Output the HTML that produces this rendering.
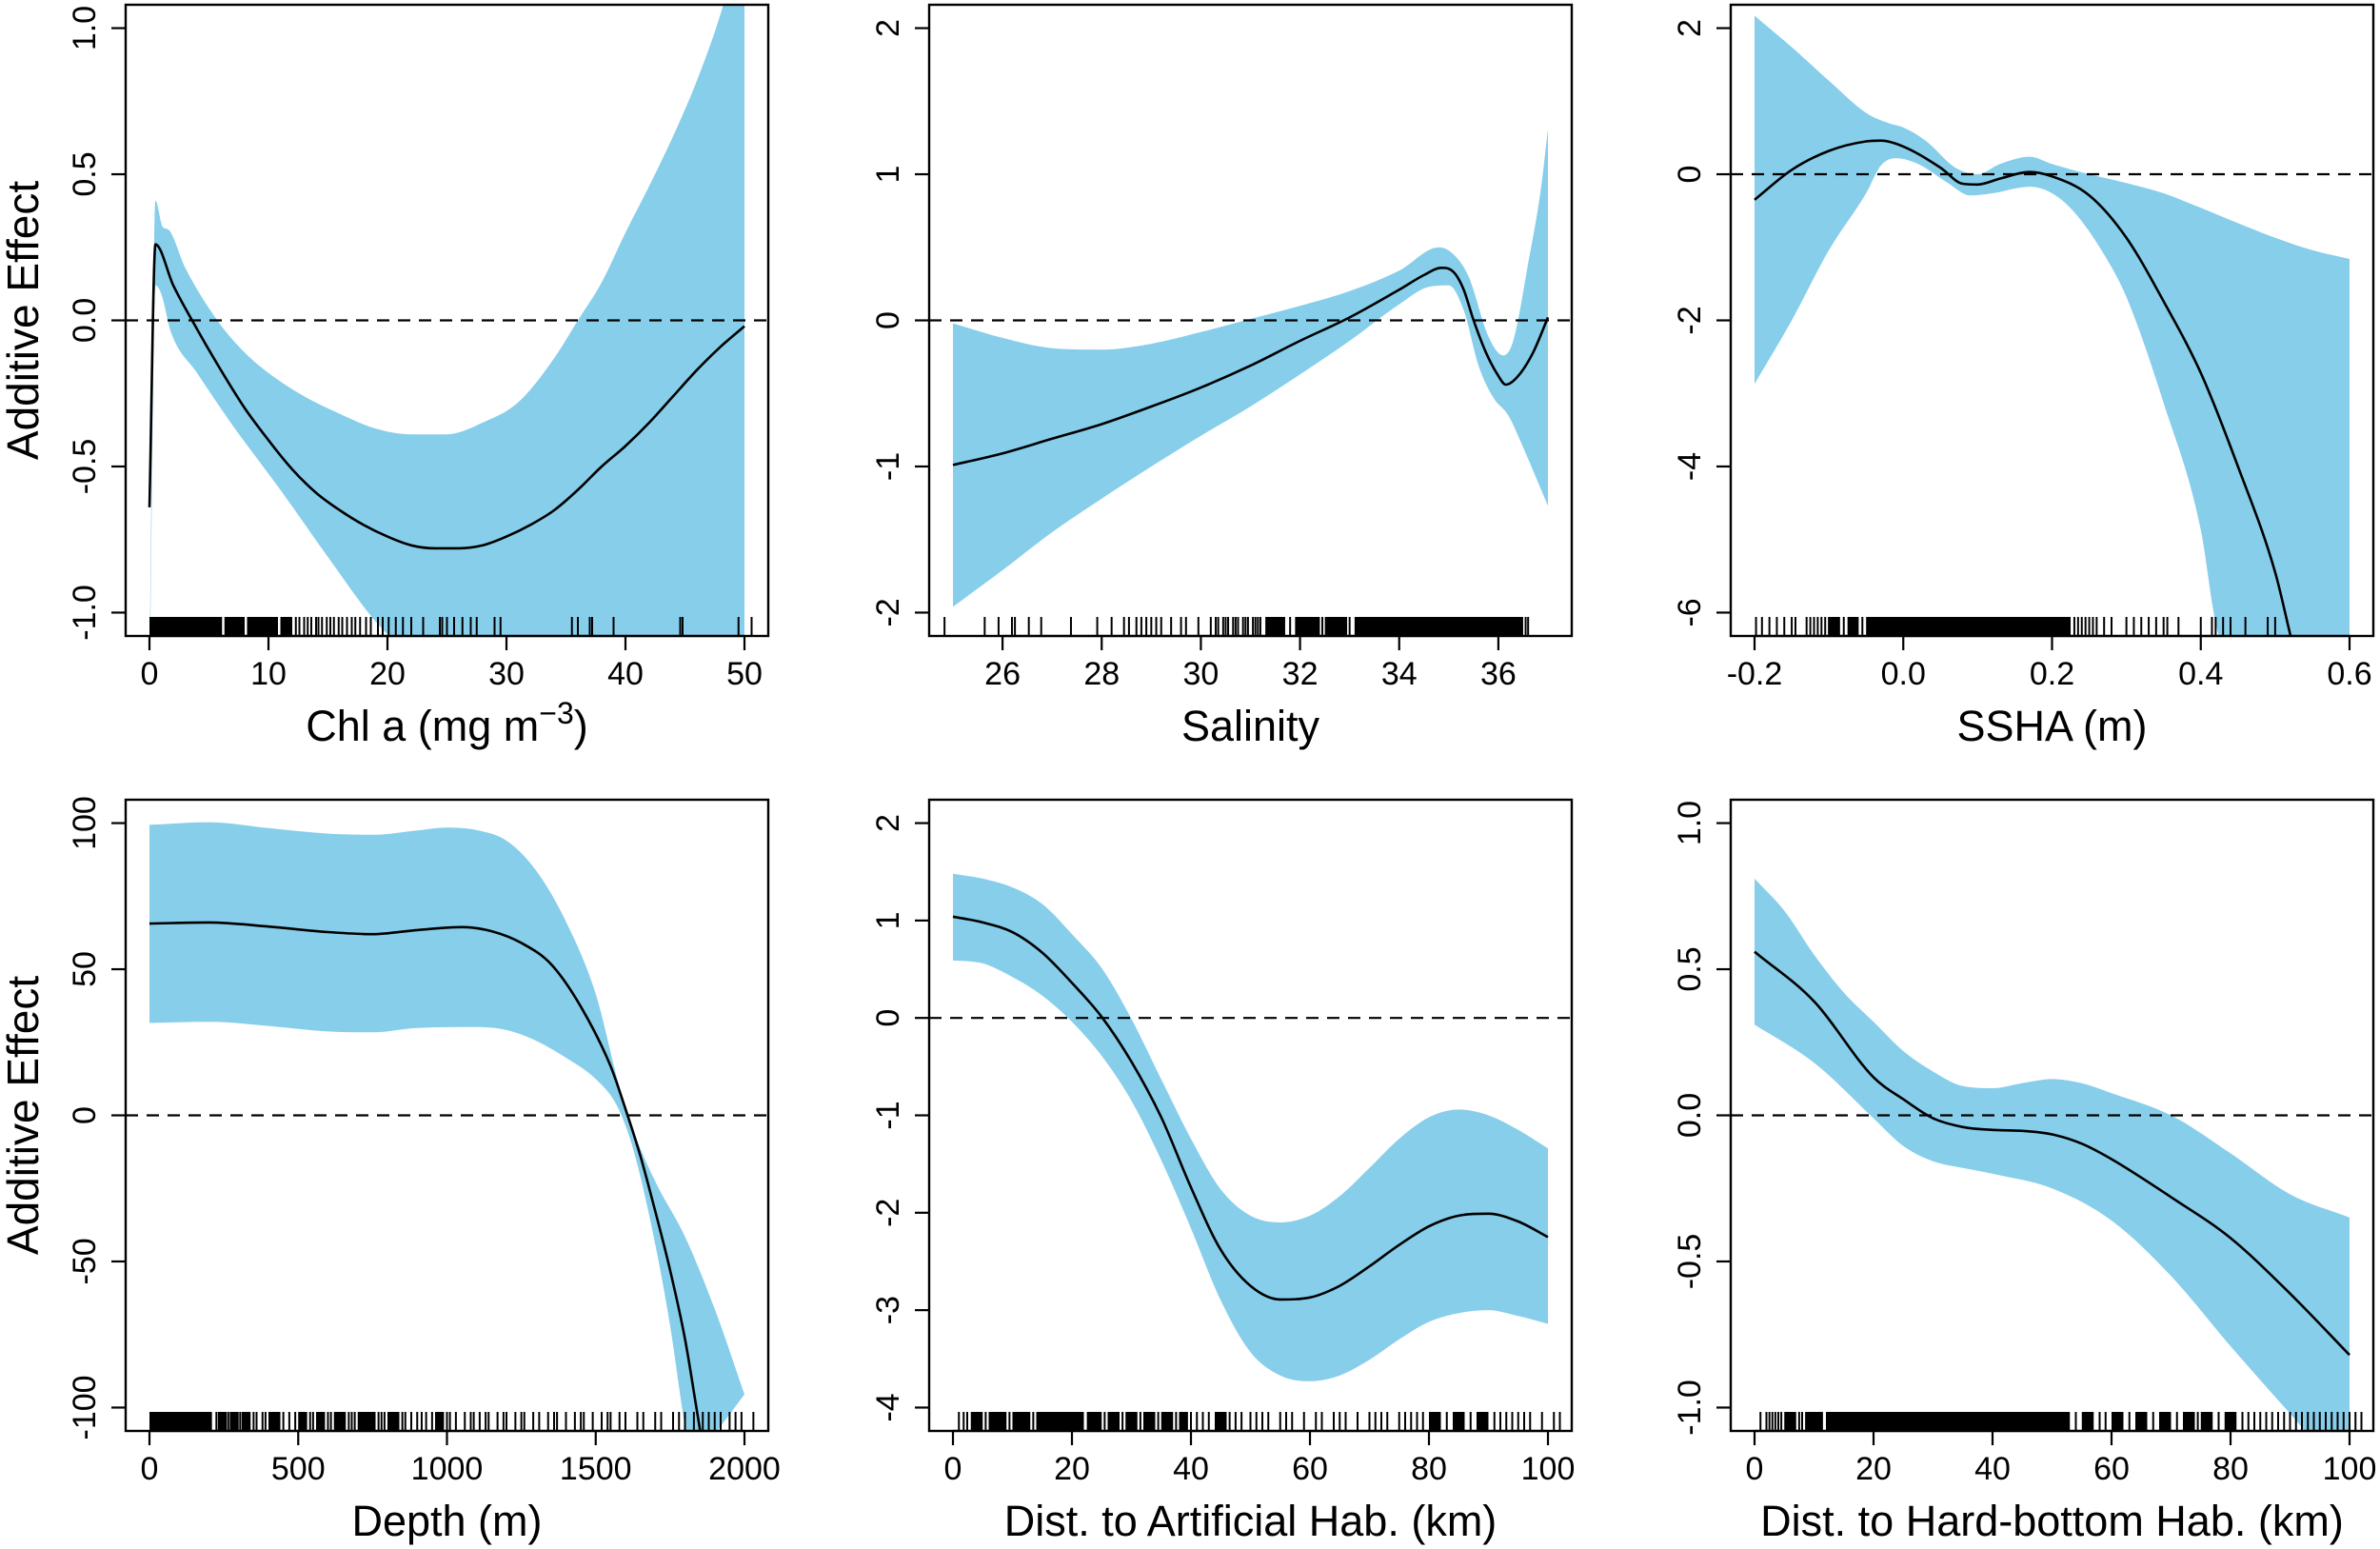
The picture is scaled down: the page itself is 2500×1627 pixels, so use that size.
<!DOCTYPE html>
<html><head><meta charset="utf-8">
<style>
html,body{margin:0;padding:0;background:#fff;}
svg{display:block;font-family:"Liberation Sans",Arial,sans-serif;}
</style></head>
<body>
<svg id="fig" width="2500" height="1627" viewBox="0 0 2500 1627" xmlns="http://www.w3.org/2000/svg"></svg>
<script>
// ---------- Panel 1: Chl a ----------
const chlLineX=[0,0.5,2,4,6,8,10,12,14,16,18,20,22,24,26,28,30,32,34,36,38,40,42,44,46,48,50];
const chlLineY=[-0.64,0.26,0.12,-0.03,-0.17,-0.30,-0.41,-0.51,-0.59,-0.65,-0.70,-0.74,-0.77,-0.78,-0.78,-0.77,-0.74,-0.70,-0.65,-0.58,-0.50,-0.43,-0.35,-0.26,-0.17,-0.09,-0.02];
const chlUpX=[0,0.5,1.1,1.6,3,5.7,8,10,13,16,19,22,25,28,31,34,36,38,40,42,44,46,48,50];
const chlUpY=[-1.2,0.41,0.32,0.31,0.18,0,-0.11,-0.18,-0.26,-0.32,-0.37,-0.39,-0.39,-0.35,-0.28,-0.13,0,0.13,0.30,0.46,0.63,0.82,1.05,1.35];
const chlLoX=[0,0.5,1.0,1.8,4,7,11,15,19,22,30,40,50];
const chlLoY=[-1.3,0.12,0.09,-0.04,-0.18,-0.36,-0.58,-0.81,-1.03,-1.15,-1.4,-1.5,-1.5];
const chlRugSpans=[[0,6.1],[6.3,8.0],[8.2,10.8],[11,12]];
const chlRugTicks=[12.3,12.6,13,13.3,13.6,14,14.2,14.5,14.9,15.2,15.5,15.9,16.2,16.6,17,17.3,17.7,18.2,18.6,19.2,19.6,20.1,20.7,21.3,22,23,24.4,24.6,25,25.6,26.3,27,27.5,29,29.5,35.5,36,37,37.2,39,44.6,44.8,49.5,50.6];
const chlXTicks=[0,10,20,30,40,50];
const chlYTicks=[-1.0,-0.5,0.0,0.5,1.0];
const chlYLabels=["-1.0","-0.5","0.0","0.5","1.0"];
// ---------- Panel 2: Salinity ----------
const salLineX=[25,26,27,28,29,30,31,32,33,34,34.5,34.85,35.1,35.3,35.5,35.75,36,36.15,36.4,36.7,37];
const salLineY=[-0.99,-0.91,-0.81,-0.71,-0.59,-0.46,-0.31,-0.14,0.02,0.21,0.31,0.36,0.33,0.21,0,-0.22,-0.38,-0.44,-0.38,-0.22,0.02];
const salUpX=[25,26,27,28,29,30,31,32,33,34,34.8,35.1,35.4,35.8,36.1,36.3,36.6,36.85,37];
const salUpY=[-0.02,-0.12,-0.19,-0.2,-0.16,-0.08,0.01,0.1,0.2,0.34,0.5,0.45,0.3,-0.11,-0.24,-0.14,0.39,0.88,1.31];
const salLoX=[25,26,27,28,29,30,31,32,33,34,34.6,35,35.3,35.6,35.9,36.2,36.5,37];
const salLoY=[-1.96,-1.71,-1.45,-1.22,-1.0,-0.79,-0.59,-0.37,-0.14,0.11,0.23,0.24,0.07,-0.31,-0.53,-0.65,-0.87,-1.27];
const salRugSpans=[[33.1,36.5],[31.3,31.7],[31.9,32.4],[32.5,32.95]];
const salRugTicks=[24.83,25.64,25.92,26.19,26.25,26.53,26.78,27.38,27.91,28.2,28.45,28.55,28.7,28.8,28.9,29.0,29.1,29.2,29.4,29.6,29.7,29.95,30.2,30.3,30.35,30.45,30.5,30.55,30.65,30.7,30.75,30.85,30.9,30.95,31.05,31.1,31.15,31.2,31.8,32.45,33.0,36.55,36.6,37.5];
const salXTicks=[26,28,30,32,34,36];
const salYTicks=[-2,-1,0,1,2];
const salYLabels=["-2","-1","0","1","2"];
// ---------- Panel 3: SSHA ----------
const sshLineX=[-0.2,-0.15,-0.1,-0.05,-0.03,0,0.05,0.08,0.1,0.13,0.17,0.2,0.25,0.3,0.35,0.4,0.45,0.5,0.52,0.56];
const sshLineY=[-0.35,0.06,0.32,0.45,0.46,0.38,0.09,-0.13,-0.14,-0.06,0.03,-0.03,-0.29,-0.87,-1.74,-2.72,-4.0,-5.45,-6.29,-8];
const sshUpX=[-0.2,-0.15,-0.1,-0.05,-0.02,0,0.03,0.07,0.1,0.13,0.17,0.2,0.25,0.3,0.35,0.4,0.45,0.5,0.55,0.6];
const sshUpY=[2.17,1.74,1.28,0.84,0.7,0.64,0.46,0.09,0,0.14,0.24,0.14,0,-0.12,-0.26,-0.46,-0.67,-0.87,-1.04,-1.16];
const sshLoX=[-0.2,-0.15,-0.1,-0.05,-0.03,-0.01,0.02,0.06,0.09,0.12,0.17,0.2,0.23,0.27,0.3,0.35,0.4,0.42,0.45,0.6];
const sshLoY=[-2.87,-2.0,-1.04,-0.26,0.12,0.22,0.14,-0.12,-0.29,-0.26,-0.17,-0.26,-0.52,-1.1,-1.68,-3.13,-4.87,-6.14,-7,-8];
const sshRugSpans=[[-0.05,0.225],[-0.1,-0.085],[-0.075,-0.06]];
const sshRugTicks=[-0.198,-0.19,-0.18,-0.17,-0.16,-0.15,-0.145,-0.13,-0.125,-0.12,-0.115,-0.11,-0.105,-0.1,-0.08,-0.055,0.23,0.235,0.24,0.245,0.25,0.255,0.26,0.27,0.28,0.3,0.31,0.32,0.33,0.34,0.35,0.355,0.37,0.4,0.415,0.42,0.43,0.44,0.46,0.49,0.5];
const sshXTicks=[-0.2,0.0,0.2,0.4,0.6];
const sshXLabels=["-0.2","0.0","0.2","0.4","0.6"];
const sshYTicks=[-6,-4,-2,0,2];
const sshYLabels=["-6","-4","-2","0","2"];
// ---------- Panel 4: Depth ----------
const depLineX=[0,200,400,600,750,900,1050,1150,1250,1350,1450,1550,1600,1650,1700,1750,1800,1840,1870];
const depLineY=[65.6,66,64.6,62.7,62,63.4,64.4,63,59,51.7,37.2,16.8,2.2,-13.8,-32.8,-53,-76.5,-101,-120];
const depUpX=[0,200,400,600,750,900,1000,1100,1200,1300,1400,1500,1580,1620,1700,1800,1900,2000];
const depUpY=[99.4,100.3,98.3,96.4,96,97.5,98.5,97.6,94,83.7,66.3,41.5,9.5,-3.6,-22.6,-41.5,-66.3,-95.5];
const depLoX=[0,200,400,600,750,900,1100,1200,1300,1400,1500,1570,1620,1680,1750,1790,1820];
const depLoY=[31.6,32,30.6,28.7,28.4,29.9,30.2,29.2,25.5,19.7,12.4,3.6,-9.5,-34.3,-72,-100,-120];
const depRugSpans=[[0,210],[230,260],[270,300],[310,340],[400,440],[500,530],[560,590],[620,660],[700,760],[800,840],[960,990]];
const depRugTicks=[225,265,305,350,360,380,390,450,470,490,540,550,600,610,670,680,690,770,780,790,850,860,880,900,915,930,950,1000,1010,1030,1060,1080,1090,1110,1130,1140,1170,1190,1200,1230,1250,1260,1290,1310,1340,1360,1370,1400,1430,1450,1460,1490,1520,1540,1550,1580,1600,1640,1660,1700,1720,1760,1780,1800,1830,1860,1880,1900,1920,1950,1970,1990,2030];
const depXTicks=[0,500,1000,1500,2000];
const depYTicks=[-100,-50,0,50,100];
const depYLabels=["-100","-50","0","50","100"];
// ---------- Panel 5: Dist. to Artificial Hab. ----------
const artLineX=[0,5,10,15,20,25,30,35,40,45,50,55,60,65,70,75,80,85,90,95,100];
const artLineY=[1.04,0.98,0.88,0.67,0.36,0.01,-0.45,-1.02,-1.74,-2.38,-2.75,-2.89,-2.87,-2.75,-2.55,-2.33,-2.14,-2.03,-2.01,-2.09,-2.25];
const artUpY=[1.48,1.43,1.34,1.17,0.86,0.51,-0.01,-0.63,-1.24,-1.76,-2.03,-2.1,-2.03,-1.83,-1.54,-1.24,-1.02,-0.94,-1.0,-1.15,-1.34];
const artLoY=[0.59,0.56,0.42,0.23,-0.04,-0.39,-0.85,-1.46,-2.16,-2.9,-3.43,-3.67,-3.73,-3.67,-3.51,-3.3,-3.12,-3.03,-3.0,-3.06,-3.14];
const artRugSpans=[[3,5],[6,9],[10,13],[14,22],[22.5,25],[26,28],[29,31],[32,34],[35,37],[38,39.5],[44,46],[80,82],[84,86],[88,90]];
const artRugTicks=[1,1.8,2.4,5.5,9.5,13.5,25.5,28.5,31.5,34.5,37.5,40,41,42,43,46.5,47.5,48.5,50,51,52,53,55,56,57,59,61,62,64,65,66,68,70,71,72,73,75,76,77,78,79,83,87,91,92,93,94,95,96,97,99,101,102];
const artXTicks=[0,20,40,60,80,100];
const artYTicks=[-4,-3,-2,-1,0,1,2];
const artYLabels=["-4","-3","-2","-1","0","1","2"];
// ---------- Panel 6: Dist. to Hard-bottom Hab. ----------
const hbLineX=[0,10,20,25,30,35,40,45,50,55,60,70,80,90,100];
const hbLineY=[0.56,0.39,0.13,0.055,-0.01,-0.04,-0.05,-0.053,-0.065,-0.097,-0.15,-0.28,-0.42,-0.61,-0.82];
const hbUpX=[0,5,10,15,20,25,30,35,40,45,50,55,60,70,80,90,100];
const hbUpY=[0.81,0.70,0.55,0.42,0.32,0.22,0.15,0.10,0.093,0.11,0.124,0.11,0.076,0,-0.13,-0.27,-0.35];
const hbLoX=[0,10,20,25,30,35,40,50,60,70,80,90,95,100];
const hbLoY=[0.31,0.18,-0.01,-0.105,-0.157,-0.18,-0.20,-0.25,-0.36,-0.55,-0.79,-1.02,-1.13,-1.16];
const hbRugSpans=[[12,53],[5,7],[8.5,11.5],[55,57],[60,62],[64,66],[68,70],[72,74],[75,77],[79,81]];
const hbRugTicks=[1,2,2.5,3,3.5,4,4.5,7.5,8,54,58,59,63,67,71,74.5,78,82,83,84,85,86,87,88,89,90,91,92,93,94,95,96,97,98,99,100,101,102];
const hbXTicks=[0,20,40,60,80,100];
const hbYTicks=[-1.0,-0.5,0.0,0.5,1.0];
const hbYLabels=["-1.0","-0.5","0.0","0.5","1.0"];

const NS="http://www.w3.org/2000/svg";
const svg=document.getElementById('fig');
function mk(tag,attrs,parent){const e=document.createElementNS(NS,tag);for(const k in attrs)e.setAttribute(k,attrs[k]);(parent||svg).appendChild(e);return e;}
// monotone cubic (Fritsch-Carlson) in data space -> bezier segments in pixel space
function segments(xs,ys,sx,sy){
  const n=xs.length,d=[],m=new Array(n);
  for(let i=0;i<n-1;i++)d.push((ys[i+1]-ys[i])/(xs[i+1]-xs[i]));
  m[0]=d[0];m[n-1]=d[n-2];
  for(let i=1;i<n-1;i++)m[i]=(d[i-1]*d[i]<=0)?0:(d[i-1]+d[i])/2;
  for(let i=0;i<n-1;i++){
    if(d[i]===0){m[i]=0;m[i+1]=0;continue;}
    const a=m[i]/d[i],b=m[i+1]/d[i],s=a*a+b*b;
    if(s>9){const t=3/Math.sqrt(s);m[i]=t*a*d[i];m[i+1]=t*b*d[i];}
  }
  const segs=[];
  for(let i=0;i<n-1;i++){
    const h=xs[i+1]-xs[i];
    segs.push([[sx(xs[i]),sy(ys[i])],[sx(xs[i]+h/3),sy(ys[i]+m[i]*h/3)],[sx(xs[i+1]-h/3),sy(ys[i+1]-m[i+1]*h/3)],[sx(xs[i+1]),sy(ys[i+1])]]);
  }
  return segs;
}
const f=p=>p[0].toFixed(1)+","+p[1].toFixed(1);
function pathFwd(segs,move){let s=(move?"M":"L")+f(segs[0][0]);segs.forEach(g=>{s+="C"+f(g[1])+" "+f(g[2])+" "+f(g[3]);});return s;}
function pathRev(segs){const r=segs.slice().reverse();let s="L"+f(r[0][3]);r.forEach(g=>{s+="C"+f(g[2])+" "+f(g[1])+" "+f(g[0]);});return s;}

let clipId=0;
function panel(cfg){
  const L=cfg.left,T=cfg.top,W=675,H=663;
  const [x0,x1]=cfg.xlim,[y0,y1]=cfg.ylim;
  const px=(x1-x0)*0.04,py=(y1-y0)*0.04;
  const sx=v=>L+(v-(x0-px))/((x1-x0)*1.08)*W;
  const sy=v=>T+H-(v-(y0-py))/((y1-y0)*1.08)*H;
  const g=mk('g',{});
  
  
  const cid='clip'+(clipId++);
  const cp=mk('clipPath',{id:cid},g);mk('rect',{x:L,y:T,width:W,height:H},cp);
  const inner=mk('g',{'clip-path':'url(#'+cid+')'},g);
  const upS=segments(cfg.upX,cfg.upY,sx,sy), loS=segments(cfg.loX,cfg.loY,sx,sy);
  const band=mk('path',{d:pathFwd(upS,true)+pathRev(loS)+"Z",fill:'#87ceeb',stroke:'none'},inner);
  
  
  const z=mk('line',{x1:L,x2:L+W,y1:sy(0),y2:sy(0),stroke:'#000','stroke-width':2.2,'stroke-dasharray':'13,9'},inner);
  
  
  const rg=mk('g',{},inner);
  
  
  const rb=T+H, rt=rb-20;
  cfg.rugSpans.forEach(s=>{const r=mk('rect',{x:sx(s[0]),y:rt,width:Math.max(1,sx(s[1])-sx(s[0])),height:20,fill:'#000'},rg);
    
    });
  cfg.rugTicks.forEach(v=>{const l=mk('line',{x1:sx(v),x2:sx(v),y1:rt,y2:rb,stroke:'#000','stroke-width':2},rg);
    
    });
  const lnS=segments(cfg.lineX,cfg.lineY,sx,sy);
  const ln=mk('path',{d:pathFwd(lnS,true),fill:'none',stroke:'#000','stroke-width':2.6},inner);
  
  
  const bx=mk('rect',{x:L,y:T,width:W,height:H,fill:'none',stroke:'#000','stroke-width':2.4},g);
  
  
  cfg.xTicks.forEach((v,i)=>{
    const x=sx(v);
    const t=mk('line',{x1:x,x2:x,y1:T+H,y2:T+H+15,stroke:'#000','stroke-width':2.2},g);
    
    
    const tx=mk('text',{x:x,y:T+H+51,'text-anchor':'middle','font-size':34,fill:'#000'},g);
    tx.textContent=cfg.xLabels?cfg.xLabels[i]:String(v);
    
    
  });
  const xa=mk('line',{x1:sx(cfg.xTicks[0]),x2:sx(cfg.xTicks[cfg.xTicks.length-1]),y1:T+H,y2:T+H,stroke:'#000','stroke-width':2.2},g);
  
  
  cfg.yTicks.forEach((v,i)=>{
    const y=sy(v);
    const t=mk('line',{x1:L-15,x2:L,y1:y,y2:y,stroke:'#000','stroke-width':2.2},g);
    
    
    const tx=mk('text',{x:0,y:0,'text-anchor':'middle','font-size':34,fill:'#000',transform:'translate('+(L-32)+','+y+') rotate(-90)'},g);
    tx.textContent=cfg.yLabels[i];
    
    
  });
  const xt=mk('text',{x:L+W/2,y:T+H+110,'text-anchor':'middle','font-size':45,fill:'#000'},g);
  
  
  if(cfg.chl){
    xt.textContent='Chl a (mg m';
    const sup=mk('tspan',{'font-size':32,dy:-18},xt);sup.textContent='\u22123';
    const rest=mk('tspan',{'font-size':45,dy:18},xt);rest.textContent=')';
  } else xt.textContent=cfg.xTitle;
  if(cfg.yTitle){
    const yt=mk('text',{x:0,y:0,'text-anchor':'middle','font-size':46,fill:'#000',transform:'translate(40,'+(T+H/2)+') rotate(-90)'},g);
    yt.textContent='Additive Effect';
    
    
  }
}
const C=[132,976,1818], R=[5,840];
panel({name:'panel-chl-a',left:C[0],top:R[0],xlim:[0,50],ylim:[-1,1],lineX:chlLineX,lineY:chlLineY,upX:chlUpX,upY:chlUpY,loX:chlLoX,loY:chlLoY,rugSpans:chlRugSpans,rugTicks:chlRugTicks,xTicks:chlXTicks,yTicks:chlYTicks,yLabels:chlYLabels,chl:true,yTitle:true});
panel({name:'panel-salinity',left:C[1],top:R[0],xlim:[25,37],ylim:[-2,2],lineX:salLineX,lineY:salLineY,upX:salUpX,upY:salUpY,loX:salLoX,loY:salLoY,rugSpans:salRugSpans,rugTicks:salRugTicks,xTicks:salXTicks,yTicks:salYTicks,yLabels:salYLabels,xTitle:'Salinity'});
panel({name:'panel-ssha',left:C[2],top:R[0],xlim:[-0.2,0.6],ylim:[-6,2],lineX:sshLineX,lineY:sshLineY,upX:sshUpX,upY:sshUpY,loX:sshLoX,loY:sshLoY,rugSpans:sshRugSpans,rugTicks:sshRugTicks,xTicks:sshXTicks,xLabels:sshXLabels,yTicks:sshYTicks,yLabels:sshYLabels,xTitle:'SSHA (m)'});
panel({name:'panel-depth',left:C[0],top:R[1],xlim:[0,2000],ylim:[-100,100],lineX:depLineX,lineY:depLineY,upX:depUpX,upY:depUpY,loX:depLoX,loY:depLoY,rugSpans:depRugSpans,rugTicks:depRugTicks,xTicks:depXTicks,yTicks:depYTicks,yLabels:depYLabels,xTitle:'Depth (m)',yTitle:true});
panel({name:'panel-dist-artificial',left:C[1],top:R[1],xlim:[0,100],ylim:[-4,2],lineX:artLineX,lineY:artLineY,upX:artLineX,upY:artUpY,loX:artLineX,loY:artLoY,rugSpans:artRugSpans,rugTicks:artRugTicks,xTicks:artXTicks,yTicks:artYTicks,yLabels:artYLabels,xTitle:'Dist. to Artificial Hab. (km)'});
panel({name:'panel-dist-hard-bottom',left:C[2],top:R[1],xlim:[0,100],ylim:[-1,1],lineX:hbLineX,lineY:hbLineY,upX:hbUpX,upY:hbUpY,loX:hbLoX,loY:hbLoY,rugSpans:hbRugSpans,rugTicks:hbRugTicks,xTicks:hbXTicks,yTicks:hbYTicks,yLabels:hbYLabels,xTitle:'Dist. to Hard-bottom Hab. (km)'});
</script>
</body></html>
